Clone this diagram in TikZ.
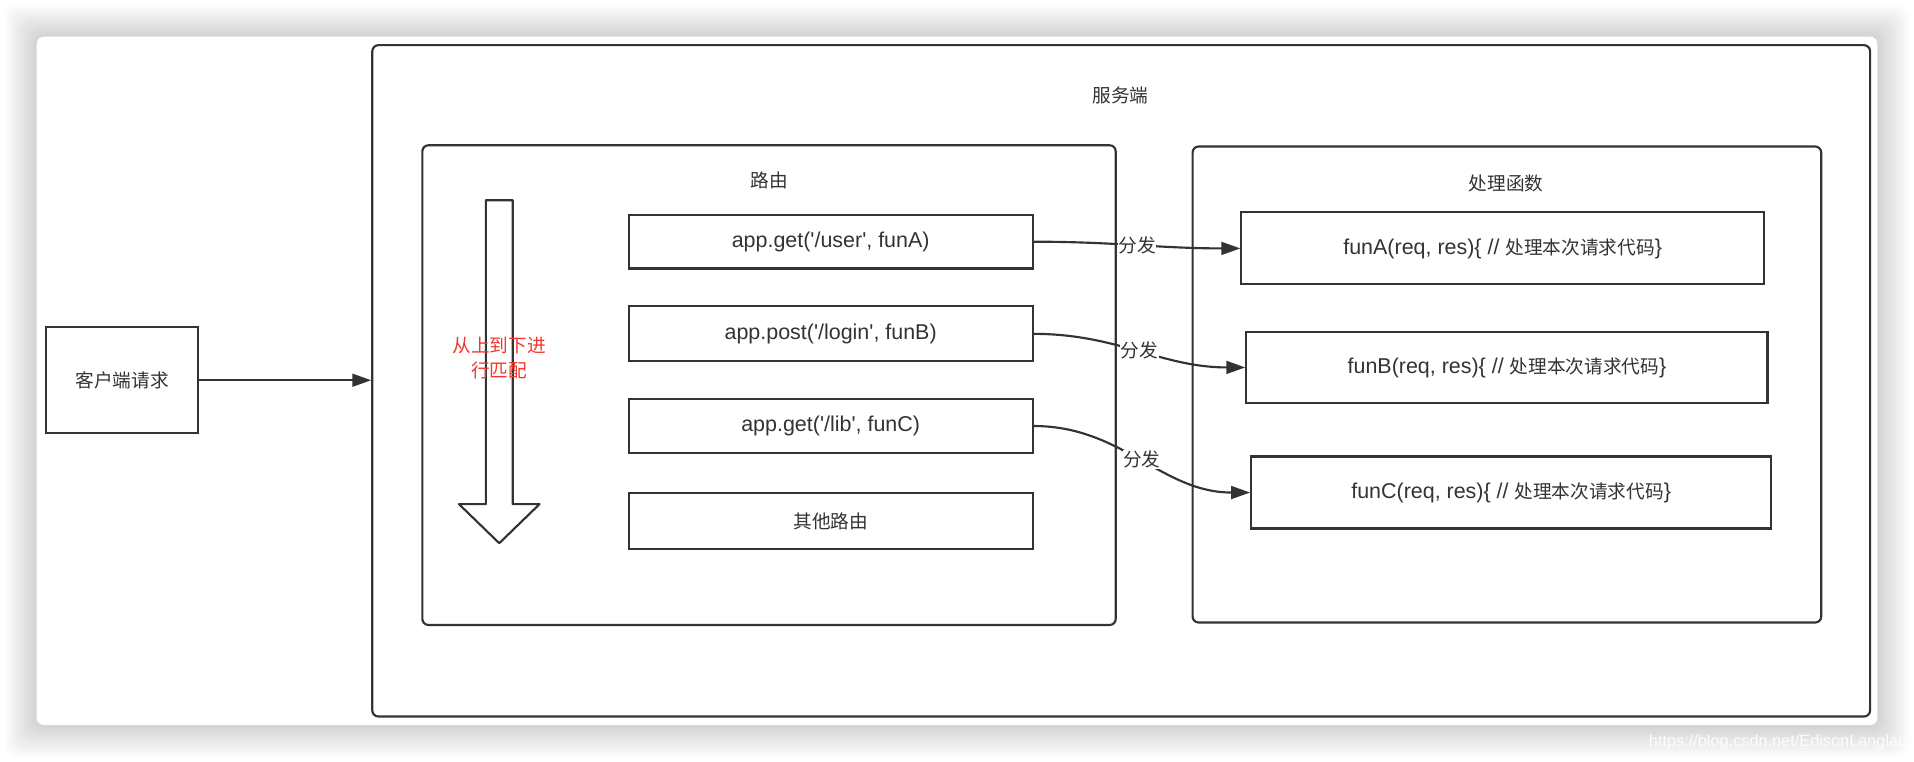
\documentclass[tikz,border=0pt]{standalone}
\usepackage{fontspec}
\newfontfamily\lat{Liberation Sans}
\newfontfamily\cjk{Noto Sans CJK SC}[Scale=0.87]
\usetikzlibrary{arrows.meta}
\definecolor{ink}{HTML}{333333}
\definecolor{redtxt}{HTML}{F0392B}
\begin{document}
\begin{tikzpicture}[x=0.2mm, y=-0.2mm, line width=0.35mm, draw=ink, text=ink,
    font=\fontsize{10}{11.6}\selectfont\lat,
    box/.style 2 args={draw, inner sep=0pt, minimum width=#1*0.2mm, minimum height=#2*0.2mm},
    cbox/.style 2 args={box={#1}{#2}, rounded corners=1mm},
    lbl/.style={fill=white, inner sep=0.3pt, font=\fontsize{10}{11.6}\selectfont\cjk},
    flow/.style={-{Triangle[length=3.1mm, width=2.1mm]}}]
    \useasboundingbox (0,0) rectangle (1568,624) ;
    \fill[white] (0,0) rectangle (1568,624) ;
    \foreach \s in {1,...,22}
      \fill[black, opacity=0.009, rounded corners=2mm] (30-1.2*\s, 30-1.2*\s) rectangle (1538+1.2*\s, 594+1.2*\s) ;
    \fill[white, rounded corners=1.2mm] (30,30) rectangle (1538,594) ;
    \node[white, opacity=0.9, anchor=west, inner sep=0pt, font=\fontsize{7.6}{9}\selectfont\lat] (mark) at (1350,608) {https://blog.csdn.net/EdisonLanglang} ;
    \node[cbox={1227}{550}] (server) at (918.5,312) {} ;
    \node (serverlbl) at (918,78) {\cjk 服务端} ;
    \node[cbox={568}{393}] (router) at (630,315.5) {} ;
    \node (routerlbl) at (630,148) {\cjk 路由} ;
    \node[cbox={515}{390}] (handler) at (1234.5,315) {} ;
    \node (handlerlbl) at (1234,150) {\cjk 处理函数} ;
    \node[box={124}{87}] (client) at (100,311.5) {\cjk 客户端请求} ;
    \draw[fill=white, line join=round] (398,164) -- (420,164) -- (420,413) -- (442,413) -- (409,445) -- (376,413) -- (398,413) -- cycle ;
    \node[text=redtxt, align=center] (order) at (409,293) {\cjk 从上到下进\\\cjk 行匹配} ;
    \node[box={331}{44}] (r1) at (680.5,198) {app.get('/user', funA)} ;
    \node[box={331}{45}] (r2) at (680.5,273.5) {app.post('/login', funB)} ;
    \node[box={331}{44}] (r3) at (680.5,349) {app.get('/lib', funC)} ;
    \node[box={331}{46}] (r4) at (680.5,427) {\cjk 其他路由} ;
    \node[box={428}{59}] (fA) at (1231,203.5) {funA(req, res)\{ // {\cjk 处理本次请求代码}\}} ;
    \node[box={427}{58}] (fB) at (1234.5,301) {funB(req, res)\{ // {\cjk 处理本次请求代码}\}} ;
    \node[box={426}{59}] (fC) at (1238,403.5) {funC(req, res)\{ // {\cjk 处理本次请求代码}\}} ;
    \draw[flow] (client.east) -- (client.east -| server.west) ;
    \draw[flow] (r1.east) to[out=0, in=180] node[lbl] {分发} (fA.west) ;
    \draw[flow] (r2.east) to[out=0, in=180] node[lbl] {分发} (fB.west) ;
    \draw[flow] (r3.east) to[out=0, in=180] node[lbl] {分发} (fC.west) ;
  \end{tikzpicture}
\end{document}
